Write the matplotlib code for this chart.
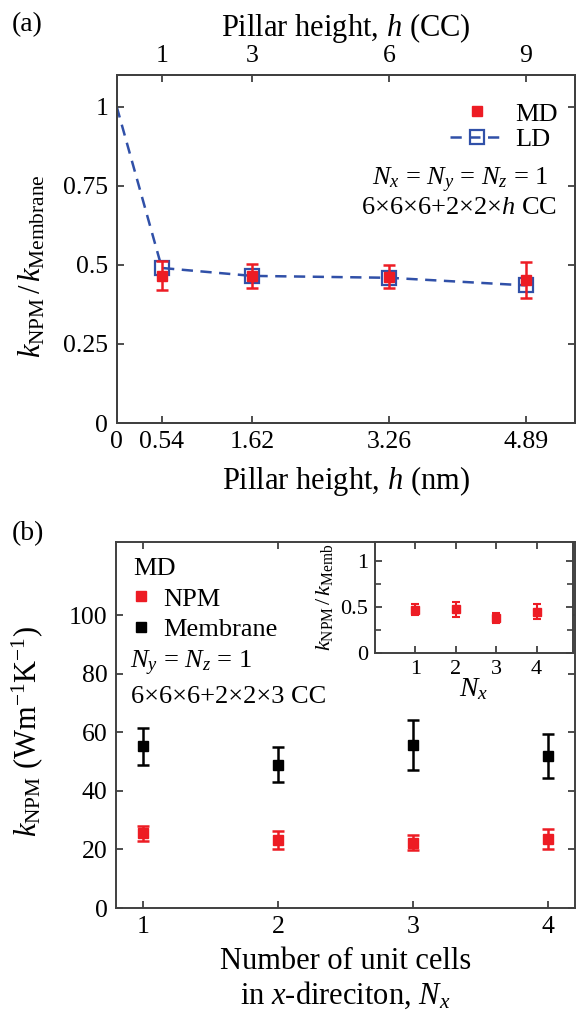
import numpy as np
import matplotlib
matplotlib.use("Agg")
from matplotlib import pyplot as plt

plt.rcParams['font.family'] = ['Liberation Serif', 'DejaVu Serif']
plt.rcParams['mathtext.fontset'] = 'custom'
plt.rcParams['mathtext.rm'] = 'Liberation Serif'
plt.rcParams['mathtext.it'] = 'Liberation Serif:italic'
plt.rcParams['mathtext.bf'] = 'Liberation Serif:bold'

RED = '#ed1c24'
BLUE = '#3050a8'
SPINE = '#404040'

# panel (a): ratio vs pillar height
h_nm = [0, 0.54, 1.62, 3.26, 4.89]
ld_ratio = [1.0, 0.49, 0.465, 0.459, 0.435]
h_md = [0.54, 1.62, 3.26, 4.89]
md_ratio = [0.465, 0.465, 0.462, 0.452]
md_err = [0.046, 0.038, 0.036, 0.056]
h_ticks = [0, 0.54, 1.62, 3.26, 4.89]
h_ticklabels = ['0', '0.54', '1.62', '3.26', '4.89']
h_cc_pos = [0.54, 1.62, 3.26, 4.89]
h_cc_labels = ['1', '3', '6', '9']

# panel (b): k vs Nx
nx = [1, 2, 3, 4]
k_mem = [55.2, 49.0, 55.8, 52.0]
k_mem_err = [6.3, 5.9, 8.5, 7.5]
k_npm = [25.5, 23.3, 22.3, 23.6]
k_npm_err = [2.5, 3.1, 2.6, 3.4]
ratio_nx = [0.466, 0.473, 0.38, 0.447]
ratio_nx_err = [0.06, 0.08, 0.055, 0.08]

TICK = 18.5
LAB = 22
TXT = 19


def style(ax, size):
	for s in ax.spines.values():
		s.set_color(SPINE)
		s.set_linewidth(1.4)
	ax.tick_params(direction='in', length=5, width=1.3, color=SPINE,
				   labelsize=size, pad=6)


fig = plt.figure(figsize=(5.77, 10.21), dpi=100)
W, H = 577.0, 1021.0

# ---------- (a) ----------
ax = fig.add_axes([116.7/W, 1-423/H, (575-116.7)/W, (423-75)/H])
ax.plot(h_nm, ld_ratio, '--', color=BLUE, lw=1.8, dashes=(4.5, 3),
		marker='s', ms=10.5, mfc='none', mec=BLUE, mew=1.6, markevery=slice(1, None),
		label='LD', zorder=2)
ax.errorbar(h_md, md_ratio, yerr=md_err, fmt='none', ecolor=RED, capsize=4.5,
			elinewidth=1.8, capthick=1.8, zorder=3)
ax.plot(h_md, md_ratio, 's', color=RED, ms=7.5, label='MD', zorder=4)
ax.set_xlim(0, 5.48)
ax.set_ylim(0, 1.1)
ax.set_xticks(h_ticks)
ax.set_xticklabels(h_ticklabels)
ax.set_yticks([0, 0.25, 0.5, 0.75, 1])
ax.set_yticklabels(['0', '0.25', '0.5', '0.75', '1'])
style(ax, TICK)
ax.tick_params(right=True)
ax.set_xlabel('Pillar height, $h$ (nm)', fontsize=LAB, labelpad=8)
ax.set_ylabel('$k_\\mathrm{NPM}\\,/\\,k_\\mathrm{Membrane}$', fontsize=LAB)
ax.yaxis.set_label_coords(-0.15, 0.45)

top = ax.twiny()
top.set_xlim(ax.get_xlim())
top.set_xticks(h_cc_pos)
top.set_xticklabels(h_cc_labels)
style(top, TICK)
top.set_xlabel('Pillar height, $h$ (CC)', fontsize=LAB, labelpad=6)

handles, labels = ax.get_legend_handles_labels()
leg = ax.legend(handles[::-1], labels[::-1], loc='upper right', bbox_to_anchor=(0.962, 0.922),
				frameon=False, fontsize=TXT, handlelength=2.1, handletextpad=0.38,
				labelspacing=0.08, borderpad=0, borderaxespad=0)
ax.text((548-116.7)/458.3, (423-180)/348, '$N_x$ = $N_y$ = $N_z$ = 1', transform=ax.transAxes,
		ha='right', va='center', fontsize=TXT)
ax.text((557-116.7)/458.3, (423-208)/348, '6×6×6+2×2×$h$ CC', transform=ax.transAxes,
		ha='right', va='center', fontsize=TXT)
fig.text(27/W, 1-25/H, '(a)', ha='center', va='center', fontsize=20)

# ---------- (b) ----------
bx = fig.add_axes([116/W, 1-908/H, (575-116)/W, (908-542)/H])
bx.errorbar(nx, k_npm, yerr=k_npm_err, fmt='none', ecolor=RED, capsize=4,
			elinewidth=1.8, capthick=1.8)
bx.errorbar(nx, k_mem, yerr=k_mem_err, fmt='none', ecolor='black', capsize=4,
			elinewidth=1.8, capthick=1.8)
bx.plot(nx, k_npm, 's', color=RED, ms=7, label='NPM')
bx.plot(nx, k_mem, 's', color='black', ms=7, label='Membrane')
bx.set_xlim(0.8, 4.2)
bx.set_ylim(0, 125)
bx.set_xticks(nx)
bx.set_yticks([0, 20, 40, 60, 80, 100])
style(bx, TICK)
bx.tick_params(right=True, top=True)
bx.set_xlabel('Number of unit cells\nin $x$-direciton, $N_x$', fontsize=LAB,
			  labelpad=6, linespacing=1.15)
bx.set_ylabel('$k_\\mathrm{NPM}$ (Wm$^\\mathrm{-1}$K$^\\mathrm{-1}$)', fontsize=LAB)
bx.yaxis.set_label_coords(-0.155, 0.482)
lg = bx.legend(loc='upper left', bbox_to_anchor=((133-116)/459, (908-558)/366), frameon=False,
			   fontsize=TXT, title='MD', title_fontsize=TXT, alignment='left',
			   handlelength=0.6, handletextpad=0.55, labelspacing=0.27,
			   borderpad=0, borderaxespad=0)
bx.text((130-116)/459, (908-663)/366, '$N_y$ = $N_z$ = 1', transform=bx.transAxes,
		ha='left', va='center', fontsize=TXT)
bx.text((131-116)/459, (908-697)/366, '6×6×6+2×2×3 CC', transform=bx.transAxes,
		ha='left', va='center', fontsize=TXT)
fig.text(28/W, 1-534/H, '(b)', ha='center', va='center', fontsize=20)

# ---------- inset ----------
ix = fig.add_axes([375/W, 1-653/H, (573-375)/W, (653-542)/H])
ix.errorbar(nx, ratio_nx, yerr=ratio_nx_err, fmt='s', color=RED, ms=5.5, capsize=3,
			elinewidth=1.5, capthick=1.5)
ix.set_xlim(0, 4.9)
ix.set_ylim(0, 1.2)
ix.set_xticks(nx)
ix.set_yticks([0, 0.5, 1])
ix.set_yticklabels(['0', '0.5', '1'])
ix.set_yticks([0.25, 0.75], minor=True)
style(ix, 16)
ix.tick_params(which='both', direction='in', right=True, top=True, color=SPINE)
ix.tick_params(which='major', pad=5)
ix.tick_params(which='minor', length=4, width=1.2)
ix.set_xlabel('$N_x$', fontsize=20, labelpad=-2)
ix.set_ylabel('$k_\\mathrm{NPM}\\,/\\,k_\\mathrm{Memb}$', fontsize=16, labelpad=1)
ix.yaxis.set_label_coords(-0.2, 0.5)

fig.savefig('out.png', dpi=100)
